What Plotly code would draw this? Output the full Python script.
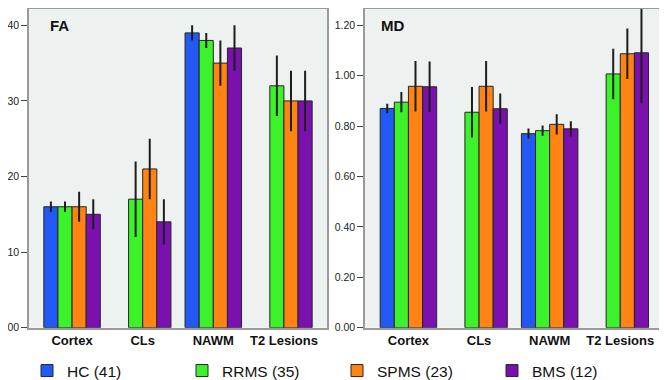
import plotly.graph_objects as go

categories = ["Cortex", "CLs", "NAWM", "T2 Lesions"]
groups = ["HC (41)", "RRMS (35)", "SPMS (23)", "BMS (12)"]
colors = ["#2259F4", "#3CF22A", "#FF8414", "#7A10AE"]

fa_hc = [0.16, None, 0.39, None]
fa_hc_err = [0.007, None, 0.01, None]
fa_rrms = [0.16, 0.17, 0.38, 0.32]
fa_rrms_err = [0.007, 0.05, 0.01, 0.04]
fa_spms = [0.16, 0.21, 0.35, 0.30]
fa_spms_err = [0.02, 0.04, 0.03, 0.04]
fa_bms = [0.15, 0.14, 0.37, 0.30]
fa_bms_err = [0.02, 0.03, 0.03, 0.04]

md_hc = [0.87, None, 0.77, None]
md_hc_err = [0.019, None, 0.02, None]
md_rrms = [0.895, 0.855, 0.782, 1.007]
md_rrms_err = [0.04, 0.10, 0.02, 0.10]
md_spms = [0.958, 0.958, 0.807, 1.087]
md_spms_err = [0.10, 0.10, 0.04, 0.10]
md_bms = [0.956, 0.869, 0.789, 1.091]
md_bms_err = [0.10, 0.06, 0.03, 0.20]

fa_ticks = [0.0, 0.1, 0.2, 0.3, 0.4]
fa_ticklabels = ["0.00", "0.10", "0.20", "0.30", "0.40"]
md_ticks = [0.0, 0.2, 0.4, 0.6, 0.8, 1.0, 1.2]
md_ticklabels = ["0.00", "0.20", "0.40", "0.60", "0.80", "1.00", "1.20"]

fa_series = [(fa_hc, fa_hc_err), (fa_rrms, fa_rrms_err), (fa_spms, fa_spms_err), (fa_bms, fa_bms_err)]
md_series = [(md_hc, md_hc_err), (md_rrms, md_rrms_err), (md_spms, md_spms_err), (md_bms, md_bms_err)]

W, H = 667, 380
OFF = 8  # page body margin offset


def px(x):
    return (x - OFF) / W


def py(y):
    return 1 - (y - OFF) / H


fig = go.Figure()

for i, (vals, errs) in enumerate(fa_series):
    fig.add_trace(go.Bar(
        x=categories, y=vals, name=groups[i], xaxis="x", yaxis="y",
        marker=dict(color=colors[i], line=dict(color="#262626", width=1)),
        error_y=dict(type="data", array=errs, color="#1e1e1e", thickness=2, width=0),
        legendgroup=groups[i], showlegend=True, cliponaxis=False,
    ))
for i, (vals, errs) in enumerate(md_series):
    fig.add_trace(go.Bar(
        x=categories, y=vals, name=groups[i], xaxis="x2", yaxis="y2",
        marker=dict(color=colors[i], line=dict(color="#262626", width=1)),
        error_y=dict(type="data", array=errs, color="#1e1e1e", thickness=2, width=0),
        legendgroup=groups[i], showlegend=False, cliponaxis=False,
    ))

ydom = [py(327.7), py(9)]
axis_common = dict(showline=True, mirror=True, linecolor="#9a9a9a", linewidth=1.5,
                   showgrid=False, zeroline=False, automargin=False)
xfont = dict(family="Liberation Sans", size=13, color="#111")
yfont = dict(family="Liberation Sans", size=10.5, color="#222")

fig.update_layout(
    width=W, height=H,
    margin=dict(l=0, r=0, t=0, b=0, autoexpand=False),
    paper_bgcolor="white",
    plot_bgcolor="#EDF1F0",
    barmode="group", bargap=0.2, bargroupgap=0,
    font=dict(family="Liberation Sans", color="#111"),
    xaxis=dict(domain=[px(29), px(327)], range=[-0.61, 3.61], anchor="y",
               tickvals=categories, ticktext=["<b>%s</b>" % c for c in categories],
               ticks="", tickfont=xfont, **axis_common),
    yaxis=dict(domain=ydom, range=[0, 0.4216], anchor="x",
               tickvals=fa_ticks, ticktext=fa_ticklabels, ticks="outside", ticklen=6,
               tickwidth=1, tickcolor="#444", tickfont=yfont, **axis_common),
    xaxis2=dict(domain=[px(365), px(663)], range=[-0.615, 3.605], anchor="y2",
                tickvals=categories, ticktext=["<b>%s</b>" % c for c in categories],
                ticks="", tickfont=xfont, **axis_common),
    yaxis2=dict(domain=ydom, range=[0, 1.2647], anchor="x2",
                tickvals=md_ticks, ticktext=md_ticklabels, ticks="outside", ticklen=6,
                tickwidth=1, tickcolor="#444", tickfont=yfont, **axis_common),
    legend=dict(orientation="h", x=px(27), xanchor="left", y=py(371), yanchor="middle",
                font=dict(family="Liberation Sans", size=15.5, color="#111"),
                entrywidth=110, entrywidthmode="pixels", tracegroupgap=0,
                bgcolor="rgba(0,0,0,0)"),
    annotations=[
        dict(text="<b>FA</b>", x=px(48), y=py(25.5), xref="paper", yref="paper",
             xanchor="left", yanchor="middle", showarrow=False,
             font=dict(family="Liberation Sans", size=15, color="#111")),
        dict(text="<b>MD</b>", x=px(379), y=py(25.5), xref="paper", yref="paper",
             xanchor="left", yanchor="middle", showarrow=False,
             font=dict(family="Liberation Sans", size=15, color="#111")),
    ],
)

fig.write_html("out.html")
